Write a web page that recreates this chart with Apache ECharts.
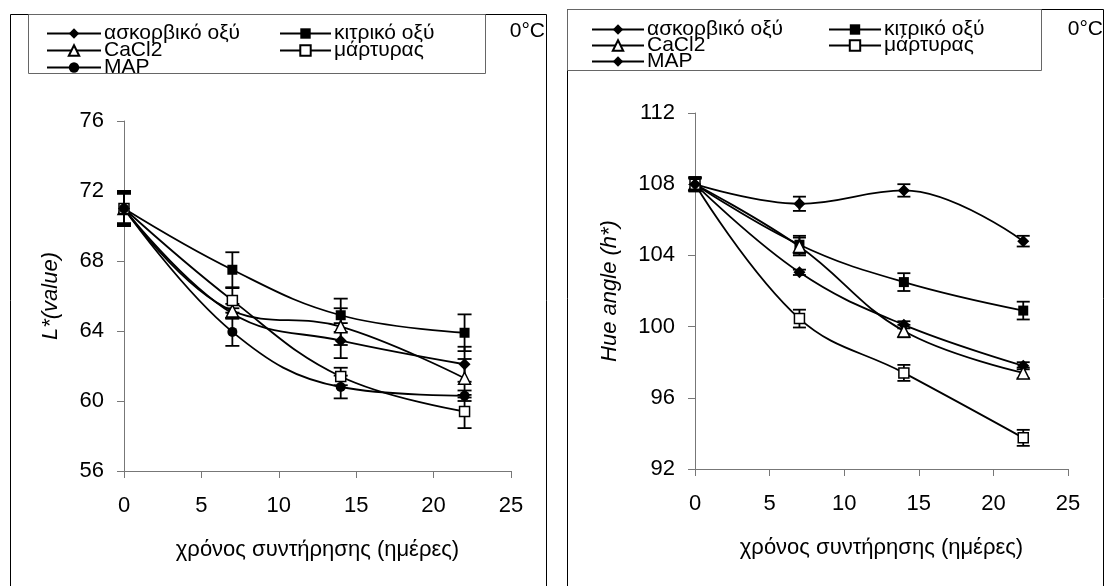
<!DOCTYPE html>
<html>
<head>
<meta charset="utf-8">
<script src="https://cdn.jsdelivr.net/npm/echarts@6/dist/echarts.min.js"></script>
<style>
  html, body { margin: 0; padding: 0; background: #fff; }
  #chart { width: 1107px; height: 586px; }
</style>
</head>
<body>
<div id="chart"></div>
<script type="text/javascript">
  // ημέρες αποθήκευσης
  var days = [0, 7, 14, 22];

  // L* (αριστερό γράφημα)
  var L_ascorbic = [71.0, 65.0, 63.45, 62.1];
  var L_citric = [71.0, 67.5, 64.9, 63.9];
  var L_cacl2 = [71.0, 65.15, 64.25, 61.3];
  var L_control = [71.0, 65.75, 61.4, 59.4];
  var L_map = [71.0, 63.95, 60.8, 60.3];
  var L_ascorbicErr = [0.85, 0.3, 1.0, 1.0];
  var L_citricErr = [1.0, 1.0, 0.95, 1.05];
  var L_cacl2Err = [0.85, 0.4, 1.05, 1.1];
  var L_controlErr = [1.0, 0.7, 0.5, 0.95];
  var L_mapErr = [0.9, 0.8, 0.65, 0.3];
  var L_ticks = [56, 60, 64, 68, 72, 76];

  // Hue angle (δεξί γράφημα)
  var H_ascorbic = [108.0, 103.05, 100.1, 97.8];
  var H_citric = [108.0, 104.6, 102.5, 100.9];
  var H_cacl2 = [108.0, 104.5, 99.75, 97.4];
  var H_control = [108.0, 100.45, 97.4, 93.75];
  var H_map = [108.0, 106.9, 107.65, 104.8];
  var H_ascorbicErr = [0.3, 0.15, 0.2, 0.2];
  var H_citricErr = [0.4, 0.5, 0.5, 0.5];
  var H_cacl2Err = [0.35, 0.5, 0.35, 0.3];
  var H_controlErr = [0.4, 0.5, 0.45, 0.45];
  var H_mapErr = [0.35, 0.4, 0.35, 0.3];
  var H_ticks = [92, 96, 100, 104, 108, 112];

  var FONT = "'Liberation Sans', Arial, sans-serif";
  var chart = echarts.init(document.getElementById('chart'));

  function pairs(vals) {
    return days.map(function (d, i) { return [d, vals[i]]; });
  }

  // σειρά γραμμής
  function lineSeries(name, vals, symbol, open, idx) {
    return {
      name: name,
      type: 'line',
      xAxisIndex: idx,
      yAxisIndex: idx,
      data: pairs(vals),
      smooth: 0.4,
      symbol: symbol,
      symbolSize: symbol === 'rect' ? 10 : (symbol === 'circle' ? 10 : 12),
      showAllSymbol: true,
      lineStyle: { color: '#000', width: 1.8 },
      itemStyle: open ? { color: '#fff', borderColor: '#000', borderWidth: 1.5 } : { color: '#000' },
      z: 3,
      animation: false
    };
  }

  // μπάρες σφάλματος
  function errSeries(list, idx, capHalf) {
    var data = [];
    list.forEach(function (s) {
      days.forEach(function (d, i) {
        data.push([d, s[0][i] - s[1][i], s[0][i] + s[1][i]]);
      });
    });
    return {
      type: 'custom',
      xAxisIndex: idx,
      yAxisIndex: idx,
      data: data,
      encode: { x: 0, y: [1, 2] },
      z: 2,
      animation: false,
      renderItem: function (params, api) {
        var x = api.value(0);
        var top = api.coord([x, api.value(2)]);
        var bot = api.coord([x, api.value(1)]);
        var st = { stroke: '#000', lineWidth: 1.8 };
        return {
          type: 'group',
          children: [
            { type: 'line', shape: { x1: top[0], y1: top[1], x2: bot[0], y2: bot[1] }, style: st },
            { type: 'line', shape: { x1: top[0] - capHalf, y1: top[1], x2: top[0] + capHalf, y2: top[1] }, style: st },
            { type: 'line', shape: { x1: bot[0] - capHalf, y1: bot[1], x2: bot[0] + capHalf, y2: bot[1] }, style: st }
          ]
        };
      }
    };
  }

  function xAxisOf(idx) {
    return {
      type: 'value', gridIndex: idx, min: 0, max: 25, interval: 5,
      name: 'χρόνος συντήρησης (ημέρες)', nameLocation: 'middle', nameGap: 68,
      nameTextStyle: { fontFamily: FONT, fontSize: 22, color: '#000' },
      axisLine: { lineStyle: { color: '#777', width: 1 } },
      axisTick: { show: true, length: 7, lineStyle: { color: '#777' } },
      axisLabel: { fontFamily: FONT, fontSize: 22, color: '#000', margin: 24 },
      splitLine: { show: false }
    };
  }

  function yAxisOf(idx, ticks, name, gap) {
    return {
      type: 'value', gridIndex: idx, min: ticks[0], max: ticks[ticks.length - 1], interval: 4,
      name: name, nameLocation: 'middle', nameGap: gap, nameRotate: 90,
      nameTextStyle: { fontFamily: FONT, fontSize: 22, fontStyle: 'italic', color: '#000' },
      axisLine: { show: true, lineStyle: { color: '#777', width: 1 } },
      axisTick: { show: true, length: 7, lineStyle: { color: '#777' } },
      axisLabel: { fontFamily: FONT, fontSize: 22, color: '#000', margin: 20 },
      splitLine: { show: false }
    };
  }

  function legendOf(names, left, top, width, gap) {
    return {
      data: names, orient: 'vertical', left: left, top: top, padding: 0,
      itemWidth: width, itemHeight: 13, itemGap: gap, selectedMode: false,
      formatter: function (n) { return n.replace(/^h_/, ''); },
      textStyle: { fontFamily: FONT, fontSize: 21, color: '#000', padding: [0, 0, 0, -2] }
    };
  }

  var option = {
    backgroundColor: '#fff',
    animation: false,
    grid: [
      { left: 124, top: 121, width: 387, height: 350 },
      { left: 695, top: 113, width: 373, height: 356 }
    ],
    xAxis: [xAxisOf(0), xAxisOf(1)],
    yAxis: [yAxisOf(0, L_ticks, 'L*(value)', 62), yAxisOf(1, H_ticks, 'Hue angle (h*)', 74)],
    legend: [
      legendOf(['ασκορβικό οξύ', 'CaCl2', 'MAP'], 46, 23, 54, -4),
      legendOf(['κιτρικό οξύ', 'μάρτυρας'], 279, 23, 51, -4),
      legendOf(['h_ασκορβικό οξύ', 'h_CaCl2', 'h_MAP'], 591, 19, 52, -5),
      legendOf(['h_κιτρικό οξύ', 'h_μάρτυρας'], 828, 19, 52, -5)
    ],
    graphic: [
      { type: 'rect', shape: { x: 10.5, y: 14.5, width: 536, height: 600 }, style: { fill: 'none', stroke: '#000', lineWidth: 1 }, z: 0 },
      { type: 'rect', shape: { x: 28.5, y: 14.5, width: 457, height: 59 }, style: { fill: 'none', stroke: '#666', lineWidth: 1 }, z: 0 },
      { type: 'rect', shape: { x: 567.5, y: 9.5, width: 536, height: 600 }, style: { fill: 'none', stroke: '#000', lineWidth: 1 }, z: 0 },
      { type: 'rect', shape: { x: 567.5, y: 9.5, width: 474, height: 61 }, style: { fill: 'none', stroke: '#666', lineWidth: 1 }, z: 0 },
      { type: 'text', x: 545, y: 31, style: { text: '0°C', font: '21px ' + FONT, fill: '#000', textAlign: 'right', textVerticalAlign: 'middle' } },
      { type: 'text', x: 1103, y: 29, style: { text: '0°C', font: '21px ' + FONT, fill: '#000', textAlign: 'right', textVerticalAlign: 'middle' } }
    ],
    series: [
      errSeries([[L_ascorbic, L_ascorbicErr], [L_citric, L_citricErr], [L_cacl2, L_cacl2Err], [L_control, L_controlErr], [L_map, L_mapErr]], 0, 7),
      lineSeries('ασκορβικό οξύ', L_ascorbic, 'diamond', false, 0),
      lineSeries('κιτρικό οξύ', L_citric, 'rect', false, 0),
      lineSeries('CaCl2', L_cacl2, 'triangle', true, 0),
      lineSeries('μάρτυρας', L_control, 'rect', true, 0),
      lineSeries('MAP', L_map, 'circle', false, 0),
      errSeries([[H_ascorbic, H_ascorbicErr], [H_citric, H_citricErr], [H_cacl2, H_cacl2Err], [H_control, H_controlErr], [H_map, H_mapErr]], 1, 6.5),
      lineSeries('h_ασκορβικό οξύ', H_ascorbic, 'diamond', false, 1),
      lineSeries('h_κιτρικό οξύ', H_citric, 'rect', false, 1),
      lineSeries('h_CaCl2', H_cacl2, 'triangle', true, 1),
      lineSeries('h_μάρτυρας', H_control, 'rect', true, 1),
      lineSeries('h_MAP', H_map, 'diamond', false, 1)
    ]
  };
  chart.setOption(option);
</script>
</body>
</html>
